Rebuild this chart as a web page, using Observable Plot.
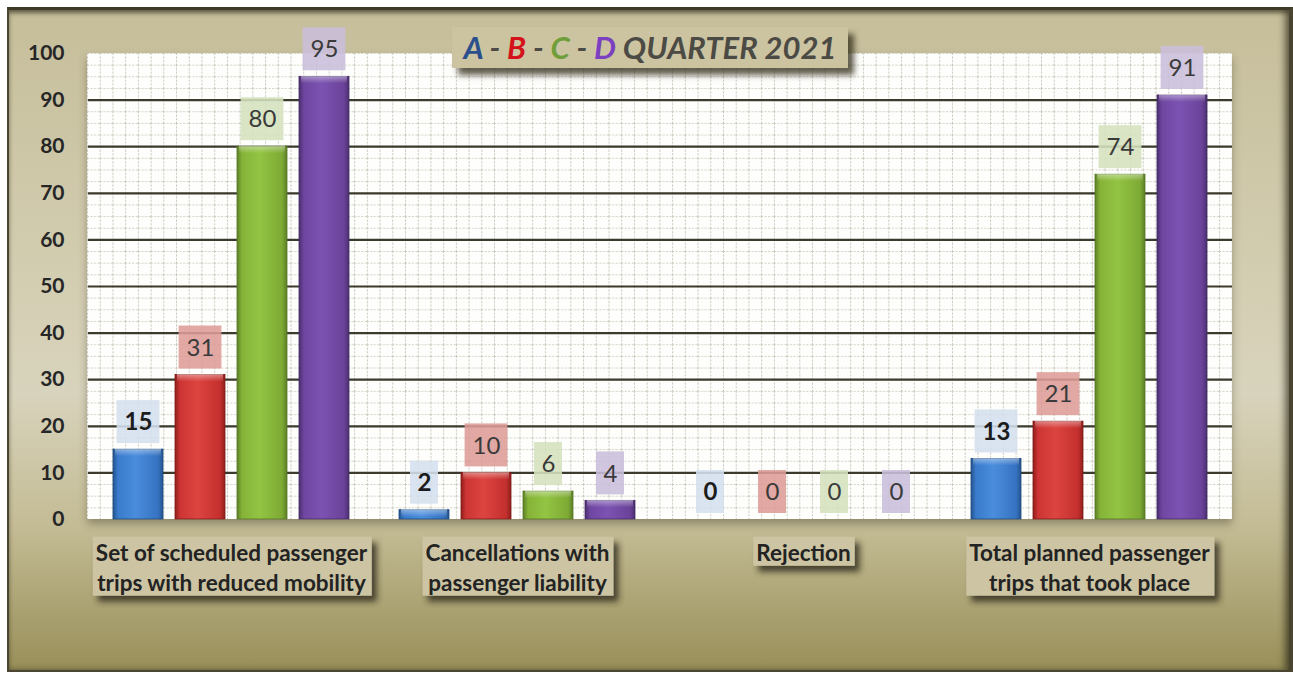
<!DOCTYPE html>
<html>
<head>
<meta charset="utf-8">
<script src="https://cdn.jsdelivr.net/npm/d3@7"></script>
<script src="https://cdn.jsdelivr.net/npm/@observablehq/plot@0.6"></script>
<style>
  html, body { margin: 0; padding: 0; background: #ffffff; }
  body { width: 1293px; height: 674px; position: relative; overflow: hidden; font-family: Lato, "Open Sans", sans-serif; }
  #frame {
    position: absolute; left: 7px; top: 7px; width: 1280px; height: 660px;
    border-top: 3px solid #3e3a28; border-left: 2px solid #4a4530; border-bottom: 2px solid #4a4530; border-right: 4px solid #4a4530;
    background: linear-gradient(to bottom, #c6be9a 0%, #d3cdb1 40%, #d8d3bc 58%, #c4bc95 78%, #988f59 100%);
    box-shadow: inset 0 3px 4px rgba(40,35,20,0.5), inset -5px 0 6px rgba(40,35,20,0.5);
  }
  #chart { position: absolute; left: 0; top: 0; }
  #title {
    position: absolute; left: 452px; top: 27px; width: 396px; height: 41px;
    background: #ccc4a1; box-shadow: 6px 7px 6px rgba(45,40,20,0.75);
    font-family: Lato, sans-serif; font-style: italic; font-weight: 700; font-size: 31px;
    line-height: 41px; text-align: center; color: #4b4a44; white-space: nowrap; letter-spacing: 0px;
  }
</style>
</head>
<body>
<svg width="0" height="0" style="position:absolute">
  <defs>
    <linearGradient id="gA" x1="0" x2="1" y1="0" y2="0">
      <stop offset="0" stop-color="#24558f"/><stop offset="0.1" stop-color="#3a7bcc"/><stop offset="0.45" stop-color="#4a8ddc"/><stop offset="0.9" stop-color="#3673c2"/><stop offset="1" stop-color="#24558f"/>
    </linearGradient>
    <linearGradient id="gB" x1="0" x2="1" y1="0" y2="0">
      <stop offset="0" stop-color="#8e1f1c"/><stop offset="0.1" stop-color="#cc3533"/><stop offset="0.45" stop-color="#dc4440"/><stop offset="0.9" stop-color="#c4302e"/><stop offset="1" stop-color="#8e1f1c"/>
    </linearGradient>
    <linearGradient id="gC" x1="0" x2="1" y1="0" y2="0">
      <stop offset="0" stop-color="#5c7f26"/><stop offset="0.1" stop-color="#85b338"/><stop offset="0.45" stop-color="#93c443"/><stop offset="0.9" stop-color="#7daa34"/><stop offset="1" stop-color="#5c7f26"/>
    </linearGradient>
    <linearGradient id="gD" x1="0" x2="1" y1="0" y2="0">
      <stop offset="0" stop-color="#4b2f70"/><stop offset="0.1" stop-color="#6f46a0"/><stop offset="0.45" stop-color="#7c53b2"/><stop offset="0.9" stop-color="#6a4299"/><stop offset="1" stop-color="#4b2f70"/>
    </linearGradient>
    <linearGradient id="bevel" x1="0" x2="0" y1="0" y2="1">
      <stop offset="0" stop-color="#ffffff" stop-opacity="0.45"/><stop offset="1" stop-color="#ffffff" stop-opacity="0"/>
    </linearGradient>
    <pattern id="minorGrid" patternUnits="userSpaceOnUse" x="87" y="53" width="12.72" height="11.65">
      <line x1="0.5" y1="0" x2="0.5" y2="11.65" stroke="#c6c6bb" stroke-width="1" stroke-dasharray="2,1.5"/>
      <line x1="0" y1="0.5" x2="12.72" y2="0.5" stroke="#cfcfc2" stroke-width="1" stroke-dasharray="2,1.5"/>
    </pattern>
    <filter id="boxShadow" x="-10%" y="-20%" width="130%" height="160%">
      <feDropShadow dx="5" dy="6" stdDeviation="3" flood-color="#2a2512" flood-opacity="0.8"/>
    </filter>
    <filter id="areaShadow" x="-5%" y="-5%" width="110%" height="115%">
      <feDropShadow dx="0" dy="5" stdDeviation="4" flood-color="#4a4530" flood-opacity="0.45"/>
    </filter>
  </defs>
</svg>
<div id="frame"></div>
<div id="chart"></div>
<div id="title"><span style="color:#2b4f8c">A</span> - <span style="color:#d4121a">B</span> - <span style="color:#6f9e3a">C</span> - <span style="color:#7b3fc0">D</span> QUARTER 2021</div>
<script>
// ---- data ----
const categories = [
  "Set of scheduled passenger\ntrips with reduced mobility",
  "Cancellations with\npassenger liability",
  "Rejection",
  "Total planned passenger\ntrips that took place"
];
const seriesNames = ["A", "B", "C", "D"];
const valuesA = [15, 2, 0, 13];
const valuesB = [31, 10, 0, 21];
const valuesC = [80, 6, 0, 74];
const valuesD = [95, 4, 0, 91];
const yTicks = [0, 10, 20, 30, 40, 50, 60, 70, 80, 90, 100];

// ---- styling lookups ----
const barFill = {A: "url(#gA)", B: "url(#gB)", C: "url(#gC)", D: "url(#gD)"};
const boxFill = {A: "#d5e0ee", B: "#dd9c97", C: "#d4e1bd", D: "#c9bedb"};
const barStroke = {A: "#1f4a7e", B: "#7e1b18", C: "#557624", D: "#452b66"};

const allValues = [valuesA, valuesB, valuesC, valuesD];
const rows = [];
categories.forEach((cat, i) => {
  seriesNames.forEach((s, j) => rows.push({cat, series: s, value: allValues[j][i]}));
});

const W = 1293, H = 674;
const plot = Plot.plot({
  width: W,
  height: H,
  marginLeft: 87,
  marginRight: 61,
  marginTop: 53,
  marginBottom: 155,
  style: {background: "transparent", fontFamily: "Lato, sans-serif", overflow: "visible"},
  fx: {domain: categories, padding: 0, label: null},
  x: {domain: seriesNames, paddingInner: 0.19, paddingOuter: 0.4, axis: null},
  y: {domain: [0, 100], axis: null},
  color: {type: "identity"},
  marks: [
    Plot.ruleY(d3.range(10, 100, 10), {stroke: "#3b3a2c", strokeWidth: 2.2}),
    Plot.barY(rows, {fx: "cat", x: "series", y: "value", fill: d => barFill[d.series], stroke: d => barStroke[d.series], strokeWidth: 0.8}),
    Plot.barY(rows.filter(d => d.value > 0), {fx: "cat", x: "series", y1: "value", y2: "value", insetTop: -1, insetBottom: -7, insetLeft: 2, insetRight: 2, fill: "url(#bevel)"}),
    // label boxes
    Plot.barY(rows.filter(d => String(d.value).length > 1), {fx: "cat", x: "series", y1: "value", y2: "value", insetTop: -49, insetBottom: 6, insetLeft: 3.6, insetRight: 3.6, fill: d => boxFill[d.series], fillOpacity: 0.88}),
    Plot.barY(rows.filter(d => String(d.value).length === 1), {fx: "cat", x: "series", y1: "value", y2: "value", insetTop: -49, insetBottom: 6, insetLeft: 11, insetRight: 11, fill: d => boxFill[d.series], fillOpacity: 0.88}),
    // label texts
    Plot.text(rows.filter(d => d.series === "A"), {fx: "cat", x: "series", y: "value", text: d => String(d.value), dy: -27, fontSize: 24, fontWeight: "bold", fill: "#1c1c1c"}),
    Plot.text(rows.filter(d => d.series !== "A"), {fx: "cat", x: "series", y: "value", text: d => String(d.value), dy: -27, fontSize: 24, fill: "#3a3a3a"}),
    Plot.axisY({ticks: yTicks, tickSize: 0, tickPadding: 24, fontSize: 21, fontWeight: "bold", color: "#262626", label: null}),
    Plot.axisFx({anchor: "bottom", tickSize: 0, tickPadding: 20, fontSize: 22.5, fontWeight: "bold", lineHeight: 1.33, color: "#232323", label: null})
  ]
});
document.getElementById("chart").appendChild(plot);

// decorative plot-area background (white + minor dotted grid) behind the marks
const ns = "http://www.w3.org/2000/svg";
const svg = plot.tagName.toLowerCase() === "svg" ? plot : plot.querySelector("svg");
const bg = document.createElementNS(ns, "g");
const r1 = document.createElementNS(ns, "rect");
r1.setAttribute("x", 87); r1.setAttribute("y", 53); r1.setAttribute("width", W - 87 - 61); r1.setAttribute("height", H - 53 - 155);
r1.setAttribute("fill", "#fefefc"); r1.setAttribute("filter", "url(#areaShadow)");
const r2 = r1.cloneNode(); r2.setAttribute("fill", "url(#minorGrid)"); r2.removeAttribute("filter");
bg.appendChild(r1); bg.appendChild(r2);
svg.insertBefore(bg, svg.firstChild.nextSibling);

// boxes with drop shadow behind the category labels
svg.querySelectorAll("[aria-label='fx-axis tick label'] text").forEach(t => {
  const b = t.getBBox();
  const rect = document.createElementNS(ns, "rect");
  rect.setAttribute("x", b.x - 3); rect.setAttribute("y", b.y - 2);
  rect.setAttribute("width", b.width + 7); rect.setAttribute("height", b.height + 2);
  rect.setAttribute("fill", "#ccc4a2"); rect.setAttribute("filter", "url(#boxShadow)");
  if (t.getAttribute("transform")) rect.setAttribute("transform", t.getAttribute("transform"));
  t.parentNode.insertBefore(rect, t);
});
</script>
</body>
</html>
